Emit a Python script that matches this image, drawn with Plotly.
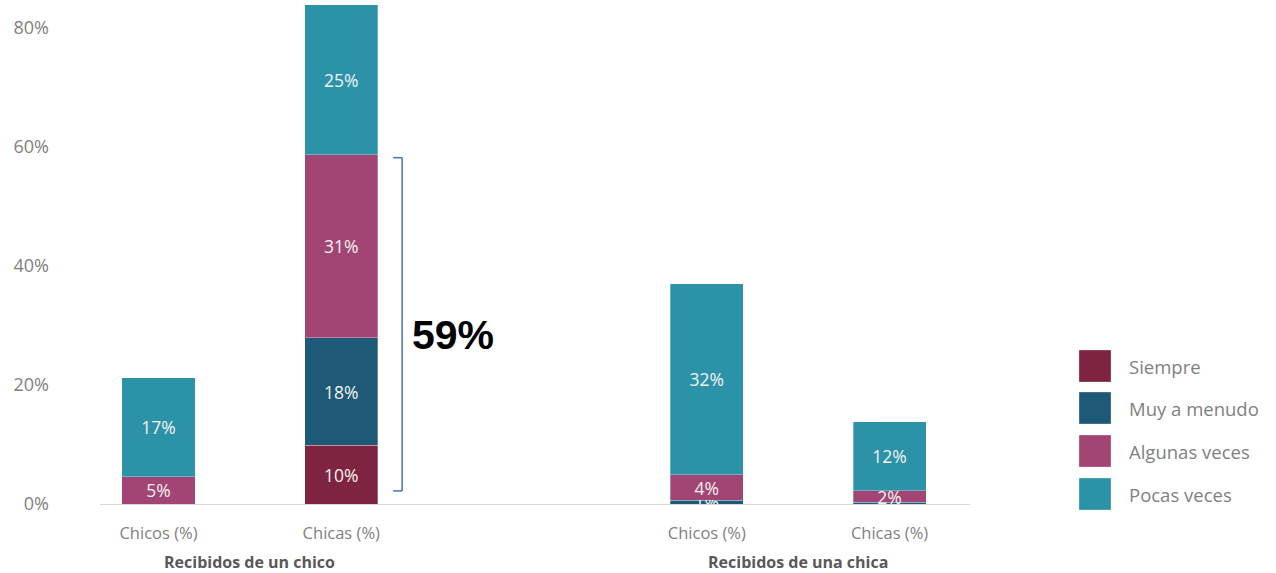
import plotly.graph_objects as go

# ---- data ----
categories = ["Chicos (%)", "Chicas (%)", "Chicos (%)", "Chicas (%)"]
groups = ["Recibidos de un chico", "Recibidos de una chica"]
series_names = ["Siempre", "Muy a menudo", "Algunas veces", "Pocas veces"]
siempre = [0.0, 9.9, 0.0, 0.0]
muy_a_menudo = [0.0, 18.0, 0.6, 0.3]
algunas_veces = [4.6, 30.8, 4.3, 1.9]
pocas_veces = [16.6, 25.2, 32.1, 11.6]
y_ticks = [0, 20, 40, 60, 80]
bracket_total_label = "59%"

series_values = [siempre, muy_a_menudo, algunas_veces, pocas_veces]
colors = ["#7E2340", "#1E5A78", "#A24574", "#2C92A8"]
x_pos = [0, 1, 3, 4]

FONT = "Open Sans"
GRAY = "#7F7F7F"
DARK = "#595959"

fig = go.Figure()
for name, vals, col in zip(series_names, series_values, colors):
    labels = [f"{round(v)}%" if v >= 0.5 else "" for v in vals]
    fig.add_trace(go.Bar(
        x=x_pos, y=vals, name=name, width=0.4,
        marker=dict(color=col, line=dict(color="rgba(255,255,255,0.5)", width=0.6)),
        text=labels, textposition="inside", insidetextanchor="middle",
        textfont=dict(family=FONT, size=17.5, color="#F2F2F2"),
        constraintext="none", showlegend=False, hoverinfo="skip",
    ))

fig.update_layout(
    barmode="stack",
    width=1276, height=573,
    margin=dict(l=100, r=306, t=0, b=69),
    plot_bgcolor="white", paper_bgcolor="white",
    uniformtext=dict(minsize=17.5, mode="show"),
    xaxis=dict(
        range=[-0.32, 4.44], tickvals=x_pos, ticktext=categories,
        showgrid=False, zeroline=False, showline=True, linecolor="#D9D9D9", linewidth=1,
        tickfont=dict(family=FONT, size=16.5, color=GRAY), ticks="", ticklabelstandoff=14,
    ),
    yaxis=dict(
        range=[0, 84.7], tickvals=y_ticks, ticktext=[f"{t}%" for t in y_ticks],
        showgrid=False, zeroline=False, showline=False,
        tickfont=dict(family=FONT, size=18, color=GRAY), ticks="", ticklabelstandoff=50,
    ),
)

# group labels
for gx, g in zip([0.5, 3.5], groups):
    fig.add_annotation(x=gx, y=0, xref="x", yref="paper", yshift=-58, text=f"<b>{g}</b>",
                       showarrow=False, font=dict(family=FONT, size=16, color=DARK),
                       xanchor="center", yanchor="middle")

# bracket
bx_in, bx_out = 1.284, 1.333
by_top, by_bot = 58.2, 2.2
line = dict(color="#4472C4", width=1.5)
fig.add_shape(type="line", x0=bx_out, x1=bx_out, y0=by_bot, y1=by_top, xref="x", yref="y", line=line)
fig.add_shape(type="line", x0=bx_in, x1=bx_out, y0=by_top, y1=by_top, xref="x", yref="y", line=line)
fig.add_shape(type="line", x0=bx_in, x1=bx_out, y0=by_bot, y1=by_bot, xref="x", yref="y", line=line)
fig.add_annotation(x=1.612, y=28.4, xref="x", yref="y", text=f"<b>{bracket_total_label}</b>",
                   showarrow=False, font=dict(family="Liberation Sans", size=41, color="black"),
                   xanchor="center", yanchor="middle")

# custom legend (big squares)
leg_y = [366, 408, 451, 494]
for name, col, py in zip(series_names, colors, leg_y):
    y0 = 1 - (py + 16) / 504
    y1 = 1 - (py - 16) / 504
    fig.add_shape(type="rect", xref="paper", yref="paper",
                  x0=(1079 - 100) / 870, x1=(1111 - 100) / 870, y0=y0, y1=y1,
                  fillcolor=col, line=dict(color="rgba(255,255,255,0.5)", width=0.6))
    fig.add_annotation(xref="paper", yref="paper", x=(1127 - 100) / 870, y=1 - py / 504,
                       text=name, showarrow=False, xanchor="left", yanchor="middle",
                       font=dict(family=FONT, size=18.5, color=GRAY))

fig.write_html("out.html", config={"displayModeBar": False},
               post_script="document.body.style.margin='0';document.body.style.overflow='hidden';")
